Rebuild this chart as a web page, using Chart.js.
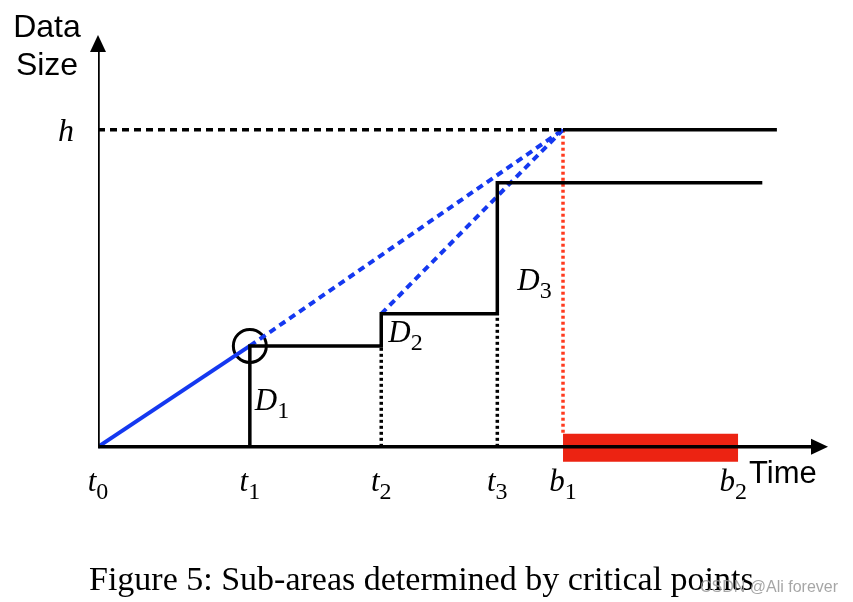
<!DOCTYPE html>
<html>
<head>
<meta charset="utf-8">
<script src="https://cdn.jsdelivr.net/npm/chart.js@4.4.1/dist/chart.umd.min.js"></script>
<style>
  html, body { margin: 0; padding: 0; background: #fff; }
  #chart { display: block; }
</style>
</head>
<body>
<canvas id="chart" width="853" height="602"></canvas>
<script>
// time points on the x axis (t0..t3, b1, b2)
const timeNames = ["t", "t", "t", "t", "b", "b"];
const timeSubs = ["0", "1", "2", "3", "1", "2"];
const timeX = [0, 20.8, 38.8, 54.7, 63.7, 87.7];

// data size reached after t1, t2, t3
const stepLevels = [24.5, 32.3, 64.1];
const hLevel = 77;
// where the two top horizontal lines stop
const lineEndX = [93, 91];
// the buffer bar between b1 and b2
const bufferY = [-3.6, 3.2];

const areaSubs = ["1", "2", "3"];

const BLACK = "#000000";
const BLUE = "#1438f0";
const RED = "#ec2312";

const t1 = timeX[1], t2 = timeX[2], t3 = timeX[3], b1 = timeX[4], b2 = timeX[5];
const [l1, l2, l3] = stepLevels;

const line = (data, color, width, dash) => ({
  data: data.map(([x, y]) => ({ x, y })),
  showLine: true,
  borderColor: color,
  borderWidth: width,
  borderDash: dash || [],
  pointRadius: 0,
  fill: false,
});

const datasets = [
  line([[0, 0], [98, 0]], BLACK, 3.5),
  line([[0, 0], [0, 96]], BLACK, 3.5),
  line([[t1, 0], [t1, l1], [t2, l1], [t2, l2], [t3, l2], [t3, l3], [lineEndX[1], l3]], BLACK, 3.5),
  line([[b1, hLevel], [lineEndX[0], hLevel]], BLACK, 3.5),
  line([[0, hLevel], [b1, hLevel]], BLACK, 3.5, [7, 5]),
  line([[t2, 0], [t2, l1]], BLACK, 3.5, [3, 3]),
  line([[t3, 0], [t3, l2]], BLACK, 3.5, [3, 3]),
  line([[0, 0], [t1, l1]], BLUE, 4),
  line([[t1, l1], [b1, hLevel]], BLUE, 4, [7, 5]),
  line([[t2, l2], [b1, hLevel]], BLUE, 4, [7, 5]),
  line([[b1, hLevel], [b1, bufferY[1]]], "#ff3b1f", 3.5, [3, 3]),
  {
    data: [{ x: t1, y: l1 }],
    showLine: false,
    pointRadius: 16.5,
    pointBorderWidth: 3,
    pointBorderColor: BLACK,
    pointBackgroundColor: "rgba(0,0,0,0)",
  },
  Object.assign(line([[b1, bufferY[1]], [b2, bufferY[1]]], RED, 0), {
    fill: { value: bufferY[0] },
    backgroundColor: RED,
  }),
];

function mathLabel(ctx, base, sub, x, y, center) {
  ctx.font = 'italic 31px "Liberation Serif"';
  const w1 = ctx.measureText(base).width;
  ctx.font = '24px "Liberation Serif"';
  const w2 = ctx.measureText(sub).width;
  const start = center ? x - (w1 + w2) / 2 : x;
  ctx.font = 'italic 31px "Liberation Serif"';
  ctx.fillText(base, start, y);
  ctx.font = '24px "Liberation Serif"';
  ctx.fillText(sub, start + w1, y + 8);
}

const sketchText = {
  id: "sketchText",
  afterDatasetsDraw(chart) {
    const ctx = chart.ctx;
    const xs = chart.scales.x, ys = chart.scales.y;
    const ox = xs.getPixelForValue(0), oy = ys.getPixelForValue(0);
    ctx.save();
    ctx.fillStyle = BLACK;
    // arrow heads
    const yt = ys.getPixelForValue(100);
    ctx.beginPath();
    ctx.moveTo(ox, yt);
    ctx.lineTo(ox - 8, yt + 17);
    ctx.lineTo(ox + 8, yt + 17);
    ctx.closePath();
    ctx.fill();
    const xt = xs.getPixelForValue(100);
    ctx.beginPath();
    ctx.moveTo(xt, oy);
    ctx.lineTo(xt - 17, oy - 8);
    ctx.lineTo(xt - 17, oy + 8);
    ctx.closePath();
    ctx.fill();

    ctx.textAlign = "left";
    ctx.textBaseline = "alphabetic";
    // time labels under the axis
    timeX.forEach((v, i) => {
      const shift = i === 5 ? -5 : 0;
      mathLabel(ctx, timeNames[i], timeSubs[i], xs.getPixelForValue(v) + shift, 491, true);
    });
    // h
    ctx.font = 'italic 32px "Liberation Serif"';
    ctx.textAlign = "center";
    ctx.fillText("h", 66, ys.getPixelForValue(hLevel) + 11);
    ctx.textAlign = "left";
    // sub-area labels
    mathLabel(ctx, "D", areaSubs[0], xs.getPixelForValue(t1) + 5, ys.getPixelForValue(9));
    mathLabel(ctx, "D", areaSubs[1], xs.getPixelForValue(t2) + 7, ys.getPixelForValue(25.5));
    mathLabel(ctx, "D", areaSubs[2], xs.getPixelForValue(t3) + 20, ys.getPixelForValue(38));

    // axis titles
    ctx.font = '32px "Liberation Sans"';
    ctx.textAlign = "center";
    ctx.fillText("Data", 47, 37);
    ctx.fillText("Size", 47, 75);
    ctx.font = '31px "Liberation Sans"';
    ctx.textAlign = "left";
    ctx.fillText("Time", 749, 483);

    // caption
    ctx.font = '34px "Liberation Serif"';
    ctx.textAlign = "left";
    ctx.fillText("Figure 5: Sub-areas determined by critical points", 89, 590);

    // watermark
    ctx.font = '16px "Liberation Sans"';
    ctx.fillStyle = "rgba(150,150,150,0.85)";
    ctx.fillText("CSDN @Ali forever", 700, 592);
    ctx.restore();
  },
};

new Chart(document.getElementById("chart"), {
  type: "scatter",
  data: { datasets },
  options: {
    responsive: false,
    animation: false,
    layout: { padding: { left: 98, right: 25, top: 35, bottom: 114 } },
    scales: {
      x: { type: "linear", min: 0, max: 100, display: false },
      y: { type: "linear", min: -10, max: 100, display: false },
    },
    plugins: { legend: { display: false }, tooltip: { enabled: false } },
  },
  plugins: [sketchText],
});
</script>
</body>
</html>
